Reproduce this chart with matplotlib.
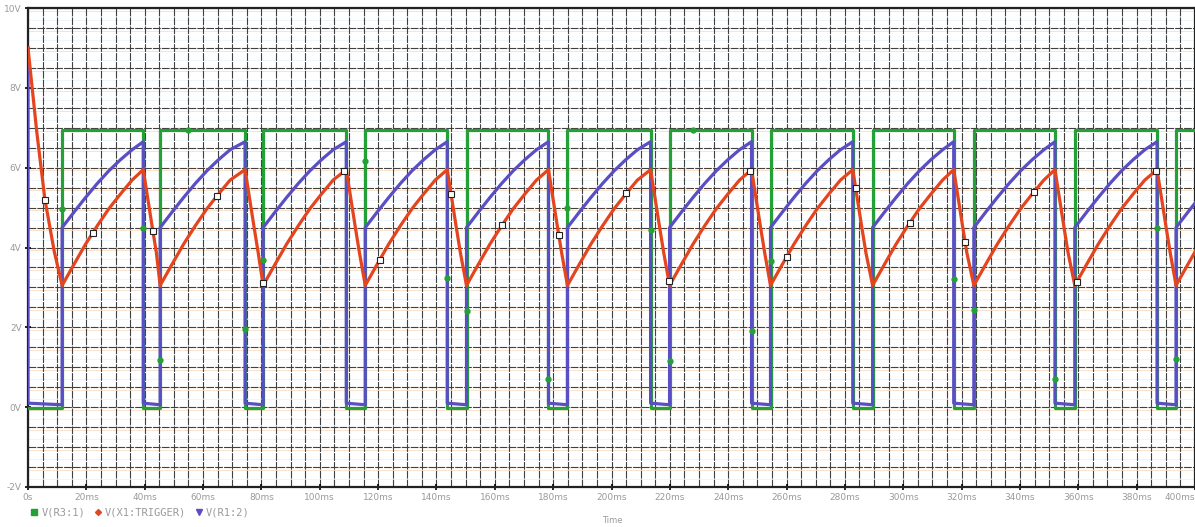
import numpy as np
import matplotlib.pyplot as plt
from matplotlib.lines import Line2D

# square-wave edges of V(R3:1), in ms
rise_ms = [11.7, 45.3, 80.6, 115.6, 150.3, 184.9, 219.9, 254.5, 289.5, 324.2, 358.8, 393.5]
fall_ms = [39.5, 74.4, 109.1, 143.7, 178.4, 213.4, 248.0, 282.7, 317.3, 352.0, 387.0]

out_high = 6.95
out_low = -0.02

# one charge phase (offset from rising edge, ms)
charge_off = [0, 4, 8, 12, 16, 20, 24]
trig_charge = [3.05, 3.57, 4.08, 4.54, 4.97, 5.34, 5.69]
r1_charge = [4.5, 4.88, 5.25, 5.6, 5.92, 6.2, 6.45]
trig_peak = 5.95
r1_peak = 6.65

# discharge phase (offset from falling edge, ms)
fall_off = [0, 1.5, 3, 4.5]
trig_fall = [5.95, 5.25, 4.55, 3.87]
r1_low = [0.1, 0.06]

# start-up of the trigger node
start_off = [0, 3, 5.8, 9]
trig_start = [9.0, 6.9, 5.2, 3.9]
r1_start = 9.0

# symbol positions
trig_mark_t = [5.8, 22.2, 42.8, 64.7, 80.5, 108.4, 120.5, 145.0, 162.5, 181.9,
               205.1, 219.6, 247.4, 260.0, 283.7, 302.3, 321.2, 344.9, 359.4, 386.6]
out_mark_t = [11.7, 39.5, 45.3, 54.9, 74.4, 80.6, 115.6, 143.7, 150.3, 178.4, 184.9,
              213.4, 219.9, 228.1, 248.0, 254.5, 317.3, 324.2, 352.0, 387.0, 393.5]
out_mark_v = [4.97, 4.49, 1.17, 6.95, 1.97, 3.69, 6.17, 3.23, 2.4, 0.7, 5.0,
              4.44, 1.16, 6.95, 1.9, 3.65, 3.2, 2.43, 0.7, 4.5, 1.2]

x_ticks = list(range(0, 401, 20))
x_labels = ["0s"] + ["%dms" % t for t in x_ticks[1:]]
y_ticks = [-2, 0, 2, 4, 6, 8, 10]
y_labels = ["%dV" % v for v in y_ticks]

GREEN = "#23a036"
RED = "#e4441e"
BLUE = "#5a4ec4"

# build the traces
t_out, v_out = [0], [out_low]
t_trig, v_trig = [t for t in start_off], list(trig_start)
t_r1, v_r1 = [0, 0], [r1_start, r1_low[0]]
for i, r in enumerate(rise_ms):
    f = fall_ms[i] if i < len(fall_ms) else None
    end = f if f is not None else 410
    t_out += [r, r]
    v_out += [out_low, out_high]
    t_r1 += [r]
    v_r1 += [r1_low[1]]
    for off, vt, vr in zip(charge_off, trig_charge, r1_charge):
        if r + off < end:
            t_trig.append(r + off)
            v_trig.append(vt)
            t_r1.append(r + off)
            v_r1.append(vr)
    if f is None:
        t_out.append(410)
        v_out.append(out_high)
        continue
    t_out += [f, f]
    v_out += [out_high, out_low]
    t_trig.append(f)
    v_trig.append(trig_peak)
    for off, vt in zip(fall_off[1:], trig_fall[1:]):
        t_trig.append(f + off)
        v_trig.append(vt)
    t_r1 += [f, f]
    v_r1 += [r1_peak, r1_low[0]]

fig = plt.figure(figsize=(11.95, 5.27), dpi=100)
ax = fig.add_axes([28 / 1195, 40 / 527, 1167 / 1195, 479 / 527])

ax.set_xlim(0, 400)
ax.set_ylim(-2, 10)
ax.set_xticks(x_ticks)
ax.set_xticklabels(x_labels)
ax.get_xticklabels()[-1].set_horizontalalignment("right")
ax.set_xticks(np.arange(0, 401, 5), minor=True)
ax.set_yticks(y_ticks)
ax.set_yticklabels(y_labels)
ax.set_yticks(np.arange(-2, 10.01, 0.5), minor=True)
ax.grid(which="both", color="#404040", linewidth=0.8, linestyle=(0, (7, 1)))
ax.set_axisbelow(True)
# scan fringes along the horizontal grid
for yv in np.arange(-2, 10.01, 0.5):
    ax.axhline(yv - 0.07, color="#f2b57a", linewidth=0.6, alpha=0.45, zorder=0)
    ax.axhline(yv + 0.2, color="#c4e2f0", linewidth=0.6, alpha=0.35, zorder=0)

ax.tick_params(which="major", direction="inout", length=5, width=1.2,
               labelsize=6.5, labelcolor="#9a9a9a", pad=2)
ax.tick_params(which="minor", length=0)
for sp in ax.spines.values():
    sp.set_linewidth(1.6)
    sp.set_color("#222222")

ax.plot(t_out, v_out, color=GREEN, linewidth=2.3, zorder=3)
ax.plot(t_r1, v_r1, color=BLUE, linewidth=2.3, zorder=4)
ax.plot(t_trig, v_trig, color=RED, linewidth=2.3, zorder=5)

ax.plot(out_mark_t, out_mark_v, "o", color=GREEN, markersize=3.5, zorder=6)
mark_v = np.interp(trig_mark_t, t_trig, v_trig)
ax.plot(trig_mark_t, mark_v, "s", markerfacecolor="white", markeredgecolor="#222222",
        markeredgewidth=0.8, markersize=4.5, zorder=7)

handles = [
    Line2D([], [], marker="s", color=GREEN, linestyle="none", markersize=4),
    Line2D([], [], marker="D", color=RED, linestyle="none", markersize=3),
    Line2D([], [], marker="v", color=BLUE, linestyle="none", markersize=4),
]
leg = fig.legend(handles, ["V(R3:1)", "V(X1:TRIGGER)", "V(R1:2)"],
                 loc="lower left", bbox_to_anchor=(0.018, 0.0), ncol=3, frameon=False,
                 handlelength=0.6, handletextpad=0.4, columnspacing=0.9,
                 prop={"family": "DejaVu Sans Mono", "size": 7.5})
for txt in leg.get_texts():
    txt.set_color("#9a9a9a")

fig.text(0.512, 0.003, "Time", ha="center", va="bottom", fontsize=6, color="#9a9a9a")

fig.savefig("out.png", dpi=100)
